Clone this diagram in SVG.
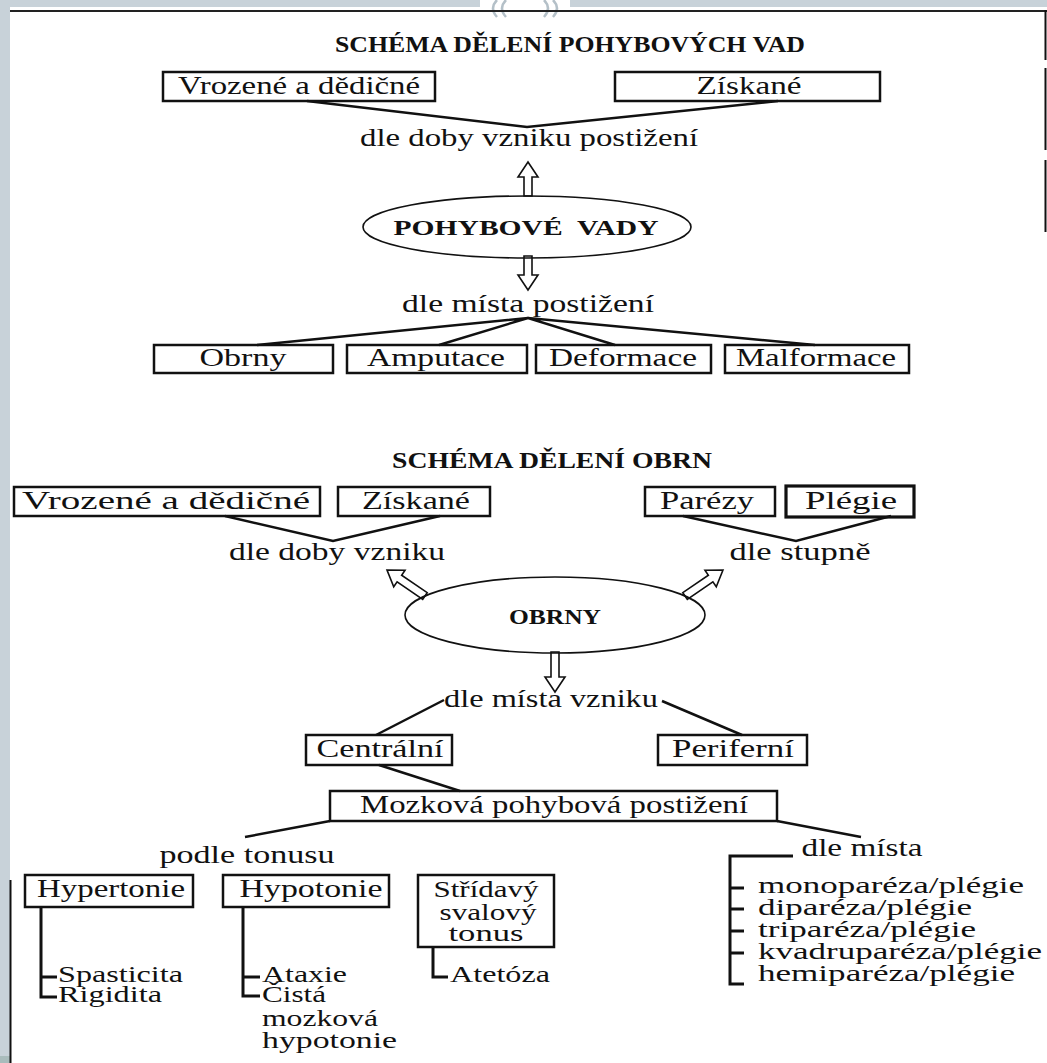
<svg xmlns="http://www.w3.org/2000/svg" xmlns:xlink="http://www.w3.org/1999/xlink" width="1047" height="1063" viewBox="0 0 1047 1063">
<style>
text{font-family:"Liberation Serif","Times New Roman",serif;fill:#111}
.c{text-anchor:middle}
.b{font-weight:bold}
.s21{font-size:22px}.s22{font-size:23px}.s23{font-size:25px}.s24{font-size:24px}
.box{fill:none;stroke:#111;stroke-width:2.5}
.ln{fill:none;stroke:#111;stroke-width:2.5;stroke-linejoin:miter}
.tr{fill:none;stroke:#111;stroke-width:3}
.ell{fill:none;stroke:#111;stroke-width:1.6}
.arr{fill:#fff;stroke:#111;stroke-width:1.6;stroke-linejoin:miter}
.frame{fill:#c8d2d9}
</style>
<defs>
<path id="a34" class="arr" d="M0,0 L10,15 L4,15 L4,34 L-4,34 L-4,15 L-10,15 Z"/>
<path id="a40" class="arr" d="M0,0 L10,15 L4,15 L4,40 L-4,40 L-4,15 L-10,15 Z"/>
<path id="a46" class="arr" d="M0,0 L10,15 L4,15 L4,46 L-4,46 L-4,15 L-10,15 Z"/>
</defs>
<rect width="1047" height="1063" fill="#fff"/>
<g id="frame">
<rect class="frame" x="0" y="0" width="480" height="7"/>
<rect class="frame" x="570" y="0" width="477" height="7"/>
<rect class="frame" x="0" y="0" width="10" height="1063"/>
<rect x="0" y="1056" width="10" height="7" fill="#a9bcbc"/>
<path d="M497,0 Q489,8 497,17 M506,0 Q498,8 506,17 M544,0 Q552,8 544,17 M553,0 Q561,8 553,17" fill="none" stroke="#b4c0c8" stroke-width="2.5"/>
<path d="M10,11 H1047" stroke="#222" stroke-width="2"/>
<path d="M1045.5,10 V60 M1045.5,68 V150 M1045.5,160 V232" stroke="#111" stroke-width="2"/>
<path d="M10.5,880 V1063" stroke="#111" stroke-width="2"/>
</g>
<g id="connectors">
<path class="ln" d="M307,101 L527,127 L778,101"/>
<path class="ln" d="M257,345 L528,318 L815,345 M439,345 L528,318 L615,345"/>
<path class="ln" d="M225,516 L333,541 L440,516"/>
<path class="ln" d="M683,516 L796,541 L891,516"/>
<path class="ln" d="M376,735 L444,700 M662,701 L742,735"/>
<path class="ln" d="M379,765 L460,791"/>
<path class="ln" d="M330,821 L245,837 M777,821 L861,837"/>
<path class="tr" d="M41,907 V997 H57 M41,977 H57"/>
<path class="tr" d="M243,907 V996 H260 M243,977 H260"/>
<path class="tr" d="M433,947 V977 H448"/>
<path class="tr" d="M793,856 H730 V984 H744 M730,888 H744 M730,909 H744 M730,931 H744 M730,953 H744"/>
<use xlink:href="#a34" transform="translate(528,162)"/>
<use xlink:href="#a34" transform="translate(528,290) rotate(180)"/>
<use xlink:href="#a46" transform="translate(387,570) rotate(-55.6)"/>
<use xlink:href="#a46" transform="translate(723,570) rotate(55.6)"/>
<use xlink:href="#a40" transform="translate(555,692) rotate(180)"/>
</g>
<g id="title1"><text class="c b s22" x="570" y="52" textLength="470" lengthAdjust="spacingAndGlyphs">SCHÉMA DĚLENÍ POHYBOVÝCH VAD</text></g>
<g id="n-vrozene1"><rect class="box" x="163" y="72" width="272" height="29"/><text class="c s23" x="299" y="94" textLength="242" lengthAdjust="spacingAndGlyphs">Vrozené a dědičné</text></g>
<g id="n-ziskane1"><rect class="box" x="615" y="72" width="265" height="29"/><text class="c s23" x="749" y="94" textLength="105" lengthAdjust="spacingAndGlyphs">Získané</text></g>
<g id="l-doby1"><text class="c s23" x="529" y="146" textLength="338" lengthAdjust="spacingAndGlyphs">dle doby vzniku postižení</text></g>
<g id="n-pohybove"><ellipse class="ell" cx="527" cy="227" rx="164" ry="31"/><text class="c b s21" x="526" y="235" textLength="265" lengthAdjust="spacingAndGlyphs" xml:space="preserve">POHYBOVÉ  VADY</text></g>
<g id="l-mista1"><text class="c s23" x="528" y="312" textLength="252" lengthAdjust="spacingAndGlyphs">dle místa postižení</text></g>
<g id="n-obrny1"><rect class="box" x="154" y="345" width="179" height="28"/><text class="c s23" x="243" y="366" textLength="87" lengthAdjust="spacingAndGlyphs">Obrny</text></g>
<g id="n-amputace"><rect class="box" x="347" y="345" width="180" height="28"/><text class="c s23" x="436" y="366" textLength="138" lengthAdjust="spacingAndGlyphs">Amputace</text></g>
<g id="n-deformace"><rect class="box" x="536" y="345" width="175" height="28"/><text class="c s23" x="623" y="366" textLength="148" lengthAdjust="spacingAndGlyphs">Deformace</text></g>
<g id="n-malformace"><rect class="box" x="725" y="345" width="184" height="28"/><text class="c s23" x="816" y="366" textLength="160" lengthAdjust="spacingAndGlyphs">Malformace</text></g>
<g id="title2"><text class="c b s22" x="552" y="468" textLength="320" lengthAdjust="spacingAndGlyphs">SCHÉMA DĚLENÍ OBRN</text></g>
<g id="n-vrozene2"><rect class="box" x="14" y="487" width="306" height="29"/><text class="c s23" x="166" y="509" textLength="288" lengthAdjust="spacingAndGlyphs">Vrozené a dědičné</text></g>
<g id="n-ziskane2"><rect class="box" x="338" y="487" width="152" height="29"/><text class="c s23" x="416" y="509" textLength="108" lengthAdjust="spacingAndGlyphs">Získané</text></g>
<g id="n-parezy"><rect class="box" x="645" y="487" width="130" height="29"/><text class="c s23" x="707" y="509" textLength="94" lengthAdjust="spacingAndGlyphs">Parézy</text></g>
<g id="n-plegie"><rect class="box" x="786" y="486" width="128" height="31" style="stroke-width:3.2"/><text class="c s23" x="851" y="509" textLength="92" lengthAdjust="spacingAndGlyphs">Plégie</text></g>
<g id="l-doby2"><text class="c s23" x="337" y="560" textLength="216" lengthAdjust="spacingAndGlyphs">dle doby vzniku</text></g>
<g id="l-stupne"><text class="c s23" x="800" y="560" textLength="141" lengthAdjust="spacingAndGlyphs">dle stupně</text></g>
<g id="n-obrny2"><ellipse class="ell" cx="555" cy="615" rx="150" ry="38"/><text class="c b s21" x="555" y="624" textLength="92" lengthAdjust="spacingAndGlyphs">OBRNY</text></g>
<g id="l-mista2"><text class="c s23" x="551" y="707" textLength="214" lengthAdjust="spacingAndGlyphs">dle místa vzniku</text></g>
<g id="n-centralni"><rect class="box" x="306" y="735" width="146" height="30"/><text class="c s23" x="380" y="757" textLength="127" lengthAdjust="spacingAndGlyphs">Centrální</text></g>
<g id="n-periferni"><rect class="box" x="658" y="735" width="149" height="30"/><text class="c s23" x="733" y="757" textLength="122" lengthAdjust="spacingAndGlyphs">Periferní</text></g>
<g id="n-mozkova"><rect class="box" x="330" y="791" width="447" height="30"/><text class="c s23" x="554" y="813" textLength="388" lengthAdjust="spacingAndGlyphs">Mozková pohybová postižení</text></g>
<g id="l-tonus"><text class="c s23" x="247" y="863" textLength="175" lengthAdjust="spacingAndGlyphs">podle tonusu</text></g>
<g id="l-mista3"><text class="c s23" x="862" y="856" textLength="121" lengthAdjust="spacingAndGlyphs">dle místa</text></g>
<g id="n-hypertonie"><rect class="box" x="25" y="875" width="168" height="32"/><text class="c s23" x="111" y="897" textLength="148" lengthAdjust="spacingAndGlyphs">Hypertonie</text></g>
<g id="n-hypotonie"><rect class="box" x="223" y="875" width="166" height="32"/><text class="c s23" x="311" y="897" textLength="143" lengthAdjust="spacingAndGlyphs">Hypotonie</text></g>
<g id="n-stridavy"><rect class="box" x="418" y="875" width="136" height="72"/><text class="c s24" x="486" y="897" textLength="105" lengthAdjust="spacingAndGlyphs">Střídavý</text><text class="c s24" x="488" y="920" textLength="97" lengthAdjust="spacingAndGlyphs">svalový</text><text class="c s24" x="486" y="941" textLength="75" lengthAdjust="spacingAndGlyphs">tonus</text></g>
<g id="n-hyper-list"><text class="s24" x="58" y="982" textLength="125" lengthAdjust="spacingAndGlyphs">Spasticita</text><text class="s24" x="58" y="1002" textLength="104" lengthAdjust="spacingAndGlyphs">Rigidita</text></g>
<g id="n-hypo-list"><text class="s24" x="262" y="982" textLength="85" lengthAdjust="spacingAndGlyphs">Ataxie</text><text class="s24" x="262" y="1002" textLength="64" lengthAdjust="spacingAndGlyphs">Čistá</text><text class="s24" x="262" y="1026" textLength="116" lengthAdjust="spacingAndGlyphs">mozková</text><text class="s24" x="262" y="1048" textLength="135" lengthAdjust="spacingAndGlyphs">hypotonie</text></g>
<g id="n-atetoza"><text class="s24" x="450" y="982" textLength="100" lengthAdjust="spacingAndGlyphs">Atetóza</text></g>
<g id="n-mista-list"><text class="s24" x="758" y="893" textLength="266" lengthAdjust="spacingAndGlyphs">monoparéza/plégie</text><text class="s24" x="758" y="915" textLength="214" lengthAdjust="spacingAndGlyphs">diparéza/plégie</text><text class="s24" x="758" y="937" textLength="218" lengthAdjust="spacingAndGlyphs">triparéza/plégie</text><text class="s24" x="758" y="959" textLength="284" lengthAdjust="spacingAndGlyphs">kvadruparéza/plégie</text><text class="s24" x="758" y="981" textLength="257" lengthAdjust="spacingAndGlyphs">hemiparéza/plégie</text></g>
</svg>
